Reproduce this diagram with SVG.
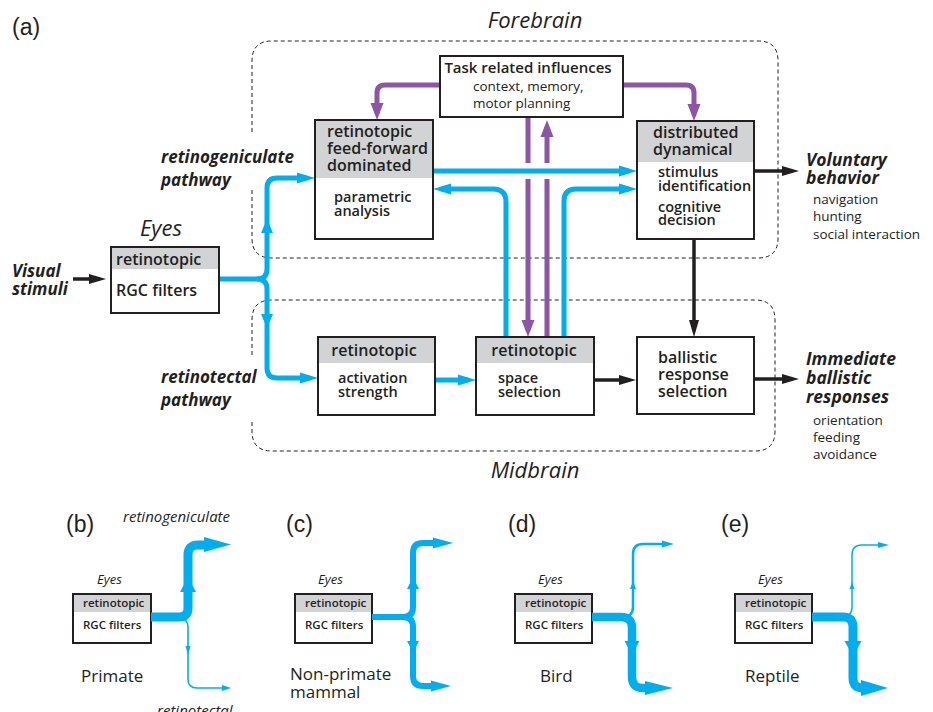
<svg xmlns="http://www.w3.org/2000/svg" width="933" height="712" viewBox="0 0 933 712">
<style>
text{fill:#231f20;font-family:"Open Sans","Noto Sans","Liberation Sans",sans-serif}
.lab{font-family:"Liberation Sans",Arial,sans-serif;font-size:23px}
.reg{font-size:22px;font-style:italic}
.path{font-size:17px;font-weight:700;font-style:italic}
.out{font-size:17.5px;font-weight:700;font-style:italic}
.hd{font-size:16px;font-weight:600}
.bd{font-size:14.5px;font-weight:600}
.sm{font-size:13.5px}
.shd{font-size:11.5px;font-weight:600}
.pl{font-size:17px}
.sit{font-size:13px;font-style:italic}
.git{font-size:15px;font-style:italic}
.box{fill:none;stroke:#231f20;stroke-width:2}
.bg{fill:#fff}
.gray{fill:#d1d3d4}
.dash{fill:none;stroke:#231f20;stroke-width:1;stroke-dasharray:4 3}
.blue{fill:none;stroke:#00aeef;stroke-width:5}
.purple{fill:none;stroke:#8c55a5;stroke-width:5}
.black{fill:none;stroke:#231f20;stroke-width:3.5}
.bfill{fill:#00aeef}
</style>
<defs>
<marker id="mb" markerUnits="userSpaceOnUse" markerWidth="18" markerHeight="12" viewBox="0 0 18 12" refX="10" refY="6" orient="auto"><path d="M0,0.5 L18,6 L0,11.5 Z" fill="#00aeef"/></marker>
<marker id="mp" markerUnits="userSpaceOnUse" markerWidth="17" markerHeight="14" viewBox="0 0 17 14" refX="10" refY="7" orient="auto"><path d="M0,0.5 L17,7 L0,13.5 Z" fill="#8c55a5"/></marker>
<marker id="mk" markerUnits="userSpaceOnUse" markerWidth="17" markerHeight="11" viewBox="0 0 17 11" refX="11" refY="5.5" orient="auto"><path d="M0,0.5 L17,5.5 L0,10.5 Z" fill="#231f20"/></marker>
</defs>

<text class="lab" x="12" y="35">(a)</text>
<text class="reg" x="535" y="28" text-anchor="middle">Forebrain</text>
<text class="reg" x="535" y="478" text-anchor="middle">Midbrain</text>

<g id="regions">
<path class="dash" d="M252,132 V61 Q252,41 272,41 H758 Q778,41 778,61 V238 Q778,258 758,258 H272 Q252,258 252,238 V190"/>
<path class="dash" d="M252,355 V320 Q252,300 272,300 H755 Q775,300 775,320 V431 Q775,451 755,451 H272 Q252,451 252,431 V422"/>
</g>

<g id="labels">
<text class="path" x="161" y="163">retinogeniculate<tspan x="161" dy="23">pathway</tspan></text>
<text class="path" x="161" y="383">retinotectal<tspan x="161" dy="23">pathway</tspan></text>
<text class="path" x="12" y="277">Visual<tspan x="12" dy="18">stimuli</tspan></text>
<text class="reg" x="140" y="236">Eyes</text>
<text class="out" x="806" y="166">Voluntary<tspan x="806" dy="18">behavior</tspan></text>
<text class="sm" x="813" y="204">navigation<tspan x="813" dy="17">hunting</tspan><tspan x="813" dy="18">social interaction</tspan></text>
<text class="out" x="806" y="365">Immediate<tspan x="806" dy="19">ballistic</tspan><tspan x="806" dy="19">responses</tspan></text>
<text class="sm" x="813" y="425">orientation<tspan x="813" dy="17">feeding</tspan><tspan x="813" dy="17">avoidance</tspan></text>
</g>

<g id="connectors">
<path class="purple" d="M440,85 H385 Q377,85 377,93 V113" marker-end="url(#mp)"/>
<path class="purple" d="M623,85 H686 Q694,85 694,93 V114" marker-end="url(#mp)"/>
<path class="purple" d="M528,117 V330" marker-end="url(#mp)"/>
<path class="purple" d="M547,337 V127" marker-end="url(#mp)"/>
<path d="M518,171 H557" stroke="#fff" stroke-width="16" fill="none"/>
<path class="blue" d="M433,171 H629" marker-end="url(#mb)"/>
<path class="blue" d="M219,279 H257 Q267,279 267,269 V188 Q267,178 277,178 H307" marker-end="url(#mb)"/>
<path class="blue" d="M257,279 Q267,279 267,289 V368 Q267,378 277,378 H310" marker-end="url(#mb)"/>
<polygon class="bfill" points="267,219 273,233 261,233"/>
<polygon class="bfill" points="267,328 273,314 261,314"/>
<path class="blue" d="M506,337 V202 Q506,189 493,189 H441" marker-end="url(#mb)"/>
<path class="blue" d="M564,337 V201 Q564,189 576,189 H629" marker-end="url(#mb)"/>
<path class="blue" d="M435,380 H468" marker-end="url(#mb)"/>
<path class="black" d="M73,279 H100" marker-end="url(#mk)"/>
<path class="black" d="M754,171 H793" marker-end="url(#mk)"/>
<path class="black" d="M694,239 V331" marker-end="url(#mk)"/>
<path class="black" d="M594,380 H630" marker-end="url(#mk)"/>
<path class="black" d="M754,379 H793" marker-end="url(#mk)"/>
</g>

<g id="eyes">
<rect class="bg" x="111" y="247" width="108" height="66"/>
<rect class="gray" x="111" y="247" width="108" height="22"/>
<rect class="box" x="111" y="247" width="108" height="66"/>
<text class="hd" x="116" y="265">retinotopic</text>
<text class="hd" x="116" y="296">RGC filters</text>
</g>

<g id="feedforward">
<rect class="bg" x="315" y="120" width="118" height="119"/>
<rect class="gray" x="315" y="120" width="118" height="58"/>
<rect class="box" x="315" y="120" width="118" height="119"/>
<text class="hd" x="327" y="137">retinotopic<tspan x="327" dy="17">feed-forward</tspan><tspan x="327" dy="17">dominated</tspan></text>
<text class="bd" x="334" y="202">parametric<tspan x="334" dy="14">analysis</tspan></text>
</g>

<g id="task">
<rect class="bg" x="440" y="56" width="183" height="61"/>
<rect class="box" x="440" y="56" width="183" height="61"/>
<text x="528" y="73" text-anchor="middle" style="font-size:15px;font-weight:600">Task related influences</text>
<text class="sm" x="473" y="91">context, memory,<tspan x="473" dy="17">motor planning</tspan></text>
</g>

<g id="distributed">
<rect class="bg" x="637" y="121" width="117" height="118"/>
<rect class="gray" x="637" y="121" width="117" height="41"/>
<rect class="box" x="637" y="121" width="117" height="118"/>
<text class="hd" x="653" y="138">distributed<tspan x="653" dy="17">dynamical</tspan></text>
<text class="bd" x="658" y="177">stimulus<tspan x="658" dy="14">identification</tspan></text>
<text class="bd" x="658" y="212">cognitive<tspan x="658" dy="13">decision</tspan></text>
</g>

<g id="activation">
<rect class="bg" x="318" y="337" width="117" height="78"/>
<rect class="gray" x="318" y="337" width="117" height="26"/>
<rect class="box" x="318" y="337" width="117" height="78"/>
<text class="hd" x="374" y="356" text-anchor="middle">retinotopic</text>
<text class="bd" x="338" y="383">activation<tspan x="338" dy="14">strength</tspan></text>
</g>

<g id="space">
<rect class="bg" x="476" y="337" width="118" height="78"/>
<rect class="gray" x="476" y="337" width="118" height="26"/>
<rect class="box" x="476" y="337" width="118" height="78"/>
<text class="hd" x="534" y="356" text-anchor="middle">retinotopic</text>
<text class="bd" x="498" y="383">space<tspan x="498" dy="14">selection</tspan></text>
</g>

<g id="ballistic">
<rect class="bg" x="637" y="337" width="117" height="77"/>
<rect class="box" x="637" y="337" width="117" height="77"/>
<text class="hd" x="658" y="363">ballistic<tspan x="658" dy="17">response</tspan><tspan x="658" dy="17">selection</tspan></text>
</g>

<g id="panel-b">
<text class="lab" x="66" y="532">(b)</text>
<text class="git" x="123" y="522">retinogeniculate</text>
<text class="git" x="157" y="716">retinotectal</text>
<text class="sit" x="97" y="584">Eyes</text>
<rect class="bg" x="73" y="594" width="78" height="49"/>
<rect class="gray" x="73" y="594" width="78" height="18"/>
<rect class="box" x="73" y="594" width="78" height="49"/>
<text class="shd" x="83" y="607">retinotopic</text>
<text class="shd" x="83" y="629">RGC filters</text>
<text class="pl" x="81" y="682">Primate</text>
<path d="M151,617 H179 Q188,617 188,608 V555 Q188,545 198,545 H206" fill="none" stroke="#00aeef" stroke-width="9"/>
<path d="M180,618 Q188,619 188,627 V679 Q188,688 197,688 H224" fill="none" stroke="#00aeef" stroke-width="1.6"/>
<polygon class="bfill" points="231,544.5 204,537 204,552"/>
<polygon class="bfill" points="188,577 196,592 180,592"/>
<polygon class="bfill" points="188,655 190.5,646 185.5,646"/>
<polygon class="bfill" points="231,688 222,685 222,691"/>
</g>

<g id="panel-c">
<text class="lab" x="286" y="532">(c)</text>
<text class="sit" x="318" y="584">Eyes</text>
<rect class="bg" x="295" y="594" width="77" height="49"/>
<rect class="gray" x="295" y="594" width="77" height="18"/>
<rect class="box" x="295" y="594" width="77" height="49"/>
<text class="shd" x="305" y="607">retinotopic</text>
<text class="shd" x="305" y="629">RGC filters</text>
<text class="pl" x="290" y="680">Non-primate<tspan x="290" dy="18">mammal</tspan></text>
<path d="M372,617 H403 Q413,617 413,607 V553 Q413,543 423,543 H435" fill="none" stroke="#00aeef" stroke-width="6"/>
<path d="M403,617 Q413,617 413,627 V676 Q413,686 423,686 H433" fill="none" stroke="#00aeef" stroke-width="6"/>
<polygon class="bfill" points="453,543 433,537.5 433,548.5"/>
<polygon class="bfill" points="451,686 431,680.5 431,691.5"/>
<polygon class="bfill" points="413,577 419,589 407,589"/>
<polygon class="bfill" points="413,653 419,641 407,641"/>
</g>

<g id="panel-d">
<text class="lab" x="508" y="532">(d)</text>
<text class="sit" x="538" y="584">Eyes</text>
<rect class="bg" x="515" y="594" width="77" height="49"/>
<rect class="gray" x="515" y="594" width="77" height="18"/>
<rect class="box" x="515" y="594" width="77" height="49"/>
<text class="shd" x="525" y="607">retinotopic</text>
<text class="shd" x="525" y="629">RGC filters</text>
<text class="pl" x="540" y="682">Bird</text>
<path d="M622,617 Q633,617 633,607 V554 Q633,544 643,544 H664" fill="none" stroke="#00aeef" stroke-width="2.5"/>
<path d="M592,617 H621 Q632,617 632,628 V677 Q632,688 643,688 H649" fill="none" stroke="#00aeef" stroke-width="8.5"/>
<polygon class="bfill" points="674,544 662,540.5 662,547.5"/>
<polygon class="bfill" points="633,581 636,589 630,589"/>
<polygon class="bfill" points="632,655 639.5,641 624.5,641"/>
<polygon class="bfill" points="673,688 645,681 645,695"/>
</g>

<g id="panel-e">
<text class="lab" x="721" y="532">(e)</text>
<text class="sit" x="758" y="584">Eyes</text>
<rect class="bg" x="735" y="594" width="77" height="49"/>
<rect class="gray" x="735" y="594" width="77" height="18"/>
<rect class="box" x="735" y="594" width="77" height="49"/>
<text class="shd" x="745" y="607">retinotopic</text>
<text class="shd" x="745" y="629">RGC filters</text>
<text class="pl" x="745" y="682">Reptile</text>
<path d="M842,617 Q852,617 852,607 V555 Q852,545 862,545 H880" fill="none" stroke="#00aeef" stroke-width="1.5"/>
<path d="M812,617 H843 Q853,617 853,627 V678 Q853,688 863,688 H865" fill="none" stroke="#00aeef" stroke-width="9"/>
<polygon class="bfill" points="889,545 878,542 878,548"/>
<polygon class="bfill" points="852,582 854.5,589 849.5,589"/>
<polygon class="bfill" points="853,656 861.5,641 844.5,641"/>
<polygon class="bfill" points="888,688 861,680 861,696"/>
</g>
</svg>
